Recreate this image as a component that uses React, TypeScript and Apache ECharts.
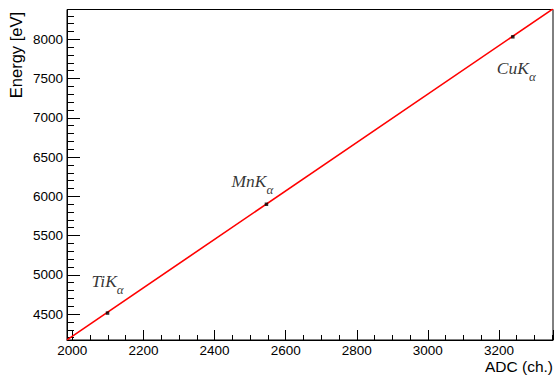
import React, { useEffect, useRef } from "react";
import * as echarts from "echarts";

// ---- data ----
const peakNames = ["Ti", "Mn", "Cu"];
const peakADC = [2099, 2546, 3239];
const peakEnergy = [4513, 5899, 8032];

// linear calibration fit (two end points of the drawn line)
const fitADC = [1985, 3352];
const fitEnergy = [4172, 8388];

const xRange = [1985, 3352];
const yRange = [4170, 8380];

const xTitle = "ADC (ch.)";
const yTitle = "Energy [eV]";

const SANS = "'Liberation Sans', Arial, Helvetica, sans-serif";
const SERIF = "'Liberation Serif', 'Times New Roman', serif";

export default function App() {
  const ref = useRef<HTMLDivElement>(null);

  useEffect(() => {
    document.body.style.margin = "0";
    const chart = echarts.init(ref.current!, null, { renderer: "svg" });

    const labelOffsets: Record<string, number[]> = {
      Ti: [-16, -41],
      Mn: [-35, -32.5],
      Cu: [-16, 22],
    };

    const points = peakNames.map((n, i) => ({
      name: n,
      value: [peakADC[i], peakEnergy[i]],
      label: {
        show: true,
        position: "inside",
        align: "left",
        verticalAlign: "top",
        offset: labelOffsets[n],
        formatter: `{m|${n}K}{s|α}`,
        rich: {
          m: {
            fontFamily: SERIF,
            fontStyle: "italic",
            fontSize: 17.5,
            lineHeight: 18,
            verticalAlign: "top",
            color: "#000",
          },
          s: {
            fontFamily: SERIF,
            fontStyle: "italic",
            fontSize: 13,
            lineHeight: 24,
            verticalAlign: "bottom",
            color: "#000",
          },
        },
      },
    }));

    const axisCommon = {
      type: "value",
      axisLine: { show: true, lineStyle: { color: "#000", width: 1 } },
      splitLine: { show: false },
    };

    chart.setOption({
      animation: false,
      backgroundColor: "#fff",
      grid: {
        left: 67,
        right: 4,
        top: 9.5,
        bottom: 38,
        show: true,
        borderColor: "#000",
        borderWidth: 1,
        backgroundColor: "transparent",
      },
      xAxis: {
        ...axisCommon,
        min: xRange[0],
        max: xRange[1],
        splitNumber: 7,
        axisTick: { show: true, inside: true, length: 10, lineStyle: { color: "#000" } },
        minorTick: { show: true, splitNumber: 4, length: 5, lineStyle: { color: "#000" } },
        axisLabel: {
          showMinLabel: false,
          showMaxLabel: false,
          color: "#000",
          fontFamily: SANS,
          fontSize: 13.5,
          margin: 3,
          formatter: (v: number) => String(v),
        },
      },
      yAxis: {
        ...axisCommon,
        min: yRange[0],
        max: yRange[1],
        splitNumber: 8,
        axisTick: { show: true, inside: true, length: 13, lineStyle: { color: "#000" } },
        minorTick: { show: true, splitNumber: 5, length: 7, lineStyle: { color: "#000" } },
        axisLabel: {
          showMinLabel: false,
          showMaxLabel: false,
          color: "#000",
          fontFamily: SANS,
          fontSize: 13.5,
          margin: 4,
          formatter: (v: number) => String(v),
        },
      },
      graphic: [
        {
          type: "text",
          x: 553,
          y: 358,
          style: {
            text: xTitle,
            fill: "#000",
            font: `15.5px ${SANS}`,
            align: "right",
            verticalAlign: "top",
          },
        },
        {
          type: "text",
          x: 7,
          y: 12,
          rotation: Math.PI / 2,
          style: {
            text: yTitle,
            fill: "#000",
            font: `16.5px ${SANS}`,
            align: "right",
            verticalAlign: "top",
          },
        },
      ],
      series: [
        {
          type: "line",
          data: fitADC.map((x, i) => [x, fitEnergy[i]]),
          symbol: "none",
          lineStyle: { color: "#ff0000", width: 1.6 },
          clip: true,
          z: 2,
        },
        {
          type: "scatter",
          data: points,
          symbol: "rect",
          symbolSize: 3.5,
          itemStyle: { color: "#000" },
          z: 3,
        },
      ],
    });

    return () => chart.dispose();
  }, []);

  return (
    <div
      ref={ref}
      style={{ position: "fixed", left: 0, top: 0, width: 557, height: 378 }}
    />
  );
}
